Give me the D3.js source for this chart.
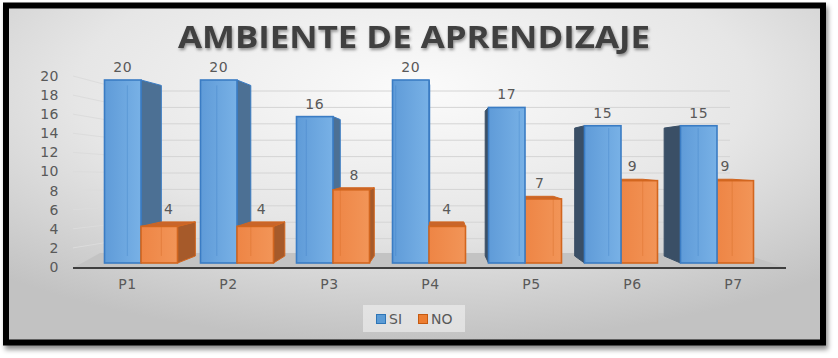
<!DOCTYPE html>
<html>
<head>
<meta charset="utf-8">
<script src="https://cdn.jsdelivr.net/npm/d3@7"></script>
<style>
  html, body { margin: 0; padding: 0; background: #ffffff; }
  svg { display: block; }
</style>
</head>
<body>
<svg id="chart" width="838" height="358"></svg>
<script>
// ---- data ----
const categories = ["P1", "P2", "P3", "P4", "P5", "P6", "P7"];
const seriesNames = ["SI", "NO"];
const siValues = [20, 20, 16, 20, 17, 15, 15];
const noValues = [4, 4, 8, 4, 7, 9, 9];
const yTicks = [0, 2, 4, 6, 8, 10, 12, 14, 16, 18, 20];
const titleText = "AMBIENTE DE APRENDIZAJE";

// ---- setup ----
const svg = d3.select("#chart");
const defs = svg.append("defs");

const bg = defs.append("radialGradient").attr("id", "bgGrad")
  .attr("cx", "50%").attr("cy", "25%").attr("r", "75%");
bg.append("stop").attr("offset", "0%").attr("stop-color", "#fbfbfb");
bg.append("stop").attr("offset", "55%").attr("stop-color", "#e6e6e6");
bg.append("stop").attr("offset", "100%").attr("stop-color", "#c2c2c2");

const fs = defs.append("filter").attr("id", "frameShadow")
  .attr("x", "-5%").attr("y", "-5%").attr("width", "110%").attr("height", "115%");
fs.append("feDropShadow").attr("dx", 2).attr("dy", 4).attr("stdDeviation", 2.5)
  .attr("flood-color", "#000").attr("flood-opacity", 0.45);

const ts = defs.append("filter").attr("id", "titleShadow")
  .attr("x", "-5%").attr("y", "-30%").attr("width", "110%").attr("height", "160%");
ts.append("feDropShadow").attr("dx", 1).attr("dy", 2).attr("stdDeviation", 1.5)
  .attr("flood-color", "#000").attr("flood-opacity", 0.4);

const blueGrad = defs.append("linearGradient").attr("id", "blueFront")
  .attr("x1", "0%").attr("x2", "100%").attr("y1", "0%").attr("y2", "0%");
blueGrad.append("stop").attr("offset", "0%").attr("stop-color", "#5f9bd8");
blueGrad.append("stop").attr("offset", "100%").attr("stop-color", "#78b1e6");
const orangeGrad = defs.append("linearGradient").attr("id", "orangeFront")
  .attr("x1", "0%").attr("x2", "100%").attr("y1", "0%").attr("y2", "0%");
orangeGrad.append("stop").attr("offset", "0%").attr("stop-color", "#ee8545");
orangeGrad.append("stop").attr("offset", "100%").attr("stop-color", "#f29558");

// frame
svg.append("rect")
  .attr("x", 6).attr("y", 5.5).attr("width", 817).attr("height", 337)
  .attr("fill", "url(#bgGrad)").attr("stroke", "#000").attr("stroke-width", 6)
  .attr("filter", "url(#frameShadow)");

// ---- scales ----
const xBand = d3.scaleBand().domain(categories).range([93, 765]);
const xSeries = d3.scaleBand().domain(seriesNames).range([-36.5, 36.5]);
const xLabel = d3.scaleBand().domain(categories).range([77, 784]);
const yFront = d3.scaleLinear().domain([0, 20]).range([263, 80]);
const yBack = d3.scaleLinear().domain([0, 20]).range([255, 91]);
const yTickPos = d3.scaleLinear().domain([0, 20]).range([267, 76]);

const VX = 440, VY = 160, F = 0.068;
const proj = (x, y) => [x + (VX - x) * F, y + (VY - y) * F];

// back wall gridlines
const wallLeft = 130, wallRight = 730;
svg.append("g").selectAll("line").data(yTicks.filter(d => d > 0)).join("line")
  .attr("x1", wallLeft).attr("x2", wallRight)
  .attr("y1", d => yBack(d)).attr("y2", d => yBack(d))
  .attr("stroke", "#d4d4d4").attr("stroke-width", 1);
// left wall gridlines
svg.append("g").selectAll("line").data(yTicks.filter(d => d > 0)).join("line")
  .attr("x1", 73).attr("y1", d => yTickPos(d))
  .attr("x2", wallLeft).attr("y2", d => yBack(d))
  .attr("stroke", "#dcdcdc").attr("stroke-width", 1);

// floor
svg.append("polygon")
  .attr("points", [[73, yTickPos(0) + 1], [786, yTickPos(0) + 1], [742, yBack(0) - 2], [100, yBack(0) - 2]].map(p => p.join(",")).join(" "))
  .attr("fill", "#c3c3c3");
svg.append("line")
  .attr("x1", 73).attr("x2", 786).attr("y1", yTickPos(0) + 1).attr("y2", yTickPos(0) + 1)
  .attr("stroke", "#3f3f3f").attr("stroke-width", 2);

// ---- bars ----
const styles = {
  SI: { front: "url(#blueFront)", edge: "#3a7cc4", side: "#4c7094", sideL: "#3a4f66", top: "#4f86c0" },
  NO: { front: "url(#orangeFront)", edge: "#d2661f", side: "#a65a2a", sideL: "#8a4a22", top: "#c8652b" }
};

const bars = [];
categories.forEach((c, i) => {
  const center = xBand(c) + xBand.bandwidth() / 2;
  [["SI", siValues[i]], ["NO", noValues[i]]].forEach(([s, v]) => {
    const x0 = center + xSeries(s), x1 = x0 + xSeries.bandwidth();
    bars.push({ c, s, v, x0, x1, mid: (x0 + x1) / 2 });
  });
});
// draw farther from vanishing point first
bars.sort((a, b) => Math.abs(b.mid - VX) - Math.abs(a.mid - VX));

const gBars = svg.append("g");
const poly = pts => pts.map(p => p.join(",")).join(" ");
bars.forEach(b => {
  const st = styles[b.s];
  const yt = yFront(b.v), yb = yFront(0);
  const A = [b.x0, yt], B = [b.x1, yt], C = [b.x1, yb], D = [b.x0, yb];
  const A2 = proj(...A), B2 = proj(...B), C2 = proj(...C), D2 = proj(...D);
  const g = gBars.append("g");
  if (B2[0] > B[0] + 0.5) {
    g.append("polygon").attr("points", poly([B, B2, C2, C]))
      .attr("fill", st.side).attr("stroke", st.edge).attr("stroke-width", 1).attr("stroke-linejoin", "round");
  }
  if (A2[0] < A[0] - 0.5) {
    g.append("polygon").attr("points", poly([A, A2, D2, D]))
      .attr("fill", st.sideL).attr("stroke", st.sideL).attr("stroke-width", 1);
  }
  if (A2[1] < A[1]) {
    g.append("polygon").attr("points", poly([A, B, B2, A2]))
      .attr("fill", st.top).attr("stroke", st.edge).attr("stroke-width", 1);
  }
  g.append("rect").attr("x", b.x0).attr("y", yt).attr("width", b.x1 - b.x0).attr("height", yb - yt)
    .attr("fill", st.front).attr("stroke", st.edge).attr("stroke-width", 1.6);
  // faint back edges seen through the bar
  [A2[0], B2[0]].forEach(xx => {
    if (xx > b.x0 + 2 && xx < b.x1 - 2) {
      g.append("line").attr("x1", xx).attr("x2", xx)
        .attr("y1", Math.max(yt, A2[1])).attr("y2", D2[1])
        .attr("stroke", st.edge).attr("stroke-opacity", 0.35).attr("stroke-width", 1);
    }
  });
  const topVisible = A2[1] < A[1];
  const lx = b.mid + (topVisible ? ((A2[0] + B2[0]) / 2 - b.mid) / 2 : 0);
  const ly = Math.min(yt, A2[1]) - 13;
  svg.append("text").attr("class", "vlabel")
    .attr("x", lx).attr("y", ly).attr("dy", "0.35em")
    .attr("text-anchor", "middle")
    .attr("font-family", "DejaVu Sans, sans-serif").attr("font-size", 14)
    .attr("letter-spacing", 0.5)
    .attr("fill", "#595959").text(b.v);
});

// ---- axes ----
const yAxis = svg.append("g").attr("transform", "translate(59,0)")
  .call(d3.axisLeft(yTickPos).tickValues(yTicks).tickSize(0).tickPadding(0));
yAxis.select(".domain").remove();
yAxis.selectAll("text").attr("font-family", "DejaVu Sans, sans-serif")
  .attr("font-size", 14).attr("letter-spacing", 0.5).attr("fill", "#595959");

const xAxis = svg.append("g").attr("transform", "translate(0,279)")
  .call(d3.axisBottom(xLabel).tickSize(0).tickPadding(0));
xAxis.select(".domain").remove();
xAxis.selectAll("text").attr("font-family", "DejaVu Sans, sans-serif")
  .attr("font-size", 14).attr("letter-spacing", 0.5).attr("fill", "#595959");

// ---- title ----
svg.append("text")
  .attr("x", 414).attr("y", 48).attr("text-anchor", "middle")
  .attr("font-family", "Open Sans, DejaVu Sans, sans-serif").attr("font-weight", "bold")
  .attr("font-size", 30).attr("fill", "#404040")
  .attr("textLength", 472).attr("lengthAdjust", "spacingAndGlyphs")
  .attr("filter", "url(#titleShadow)")
  .text(titleText);

// ---- legend ----
const legend = svg.append("g");
legend.append("rect").attr("x", 363).attr("y", 305).attr("width", 102).attr("height", 27)
  .attr("fill", "#f2f2f2").attr("fill-opacity", 0.6);
const legItems = [
  { name: seriesNames[0], fill: "#5b9bd5", stroke: "#2e75b6", x: 376 },
  { name: seriesNames[1], fill: "#ed7d31", stroke: "#c55a11", x: 418 }
];
legItems.forEach(it => {
  legend.append("rect").attr("x", it.x + 0.5).attr("y", 314.5).attr("width", 9).attr("height", 9)
    .attr("fill", it.fill).attr("stroke", it.stroke).attr("stroke-width", 1);
  legend.append("text").attr("x", it.x + 13).attr("y", 319).attr("dy", "0.35em")
    .attr("font-family", "DejaVu Sans, sans-serif").attr("font-size", 14)
    .attr("fill", "#595959").text(it.name);
});
</script>
</body>
</html>
